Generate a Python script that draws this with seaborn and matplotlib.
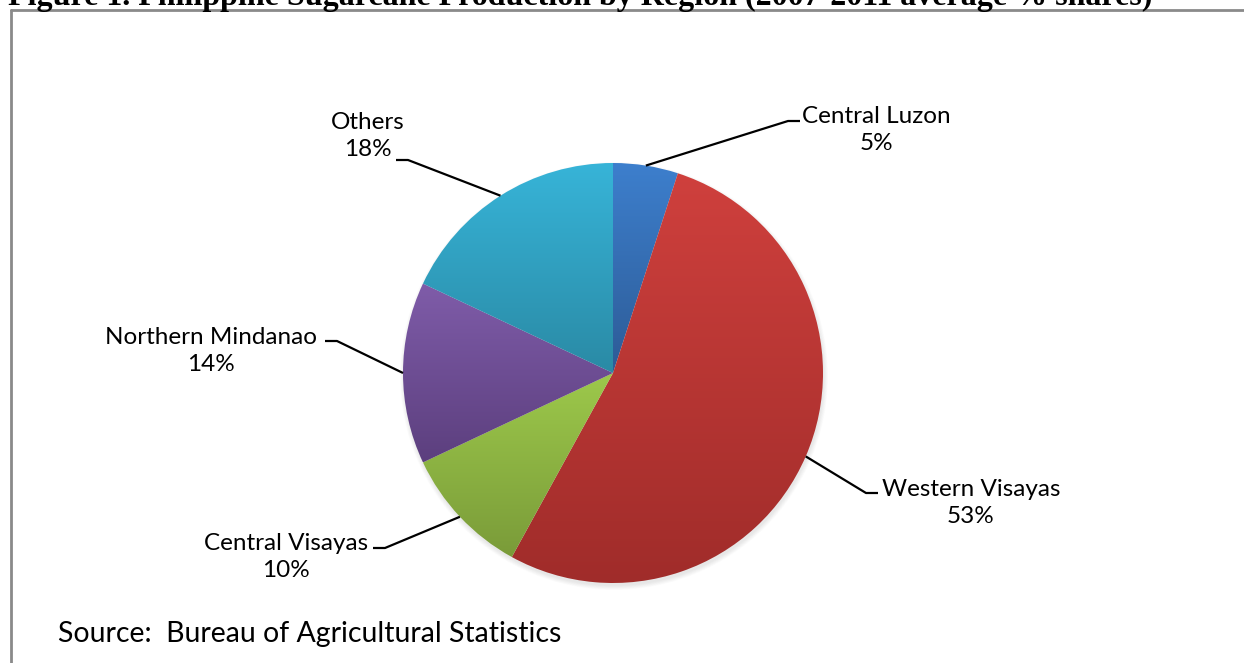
import numpy as np
import matplotlib
matplotlib.use("Agg")
import matplotlib.pyplot as plt
from matplotlib.colors import to_rgba
from matplotlib.lines import Line2D
import seaborn as sns

# Regional shares of sugarcane production, 2007-2011 average (%)
regions = ["Central Luzon", "Western Visayas", "Central Visayas",
           "Northern Mindanao", "Others"]
shares = [5, 53, 10, 14, 18]

# Light (top) and dark (bottom) shade of each slice
top_colors = ["#3D7FCD", "#CF403D", "#9DC94B", "#7F5CA9", "#37B4D8"]
bottom_colors = ["#2D5B96", "#A02C2A", "#7A9B39", "#5C3F7E", "#2A8AA5"]

title = ("Figure 1. Philippine Sugarcane Production by Region "
         "(2007-2011 average % shares)")
source = "Source:  Bureau of Agricultural Statistics"

sns.set_theme(style="white")
plt.rcParams["font.family"] = ["Lato", "DejaVu Sans"]

W, H = 1244, 663
fig = plt.figure(figsize=(W / 100, H / 100), dpi=100)
ax = fig.add_axes([0, 0, 1, 1])
ax.set_xlim(0, W)
ax.set_ylim(0, H)
ax.set_aspect("equal")
ax.axis("off")

cx, cy, r = 613, H - 373, 210

# soft shadow under the pie
for k in range(8):
    ax.add_patch(plt.Circle((cx + 1, cy - 3), r + 4 - k * 0.6,
                            color="black", alpha=0.012, lw=0, zorder=1))

wedges, _ = ax.pie(shares, colors=top_colors, startangle=90,
                   counterclock=False, center=(cx, cy), radius=r,
                   wedgeprops=dict(linewidth=0))

# vertical gradient fill clipped to each wedge
for w, c0, c1 in zip(wedges, top_colors, bottom_colors):
    t1, t2 = np.deg2rad(w.theta1), np.deg2rad(w.theta2)
    ang = np.linspace(t1, t2, 200)
    xs = np.concatenate([[cx], cx + r * np.cos(ang)])
    ys = np.concatenate([[cy], cy + r * np.sin(ang)])
    a, b = np.array(to_rgba(c0)), np.array(to_rgba(c1))
    f = np.linspace(0, 1, 256)[:, None]
    grad = (a[None, :] * (1 - f) + b[None, :] * f)[:, None, :]
    im = ax.imshow(grad, extent=[xs.min(), xs.max(), ys.min(), ys.max()],
                   origin="upper", aspect="auto", interpolation="bilinear",
                   zorder=w.get_zorder())
    im.set_clip_path(w)
    w.set_facecolor("none")

ax.set_xlim(0, W)
ax.set_ylim(0, H)

# text-side end of each leader line, label side, text centre
# (pixels from top-left)
elbows = [(800, 121), (878, 493), (373, 548), (325, 341), (396, 160)]
sides = [1, 1, -1, -1, -1]
text_centers = [(876, 130), (971, 503), (286, 557), (211, 351), (368, 136)]

cum = np.cumsum([0] + shares[:-1])
for i, (name, val) in enumerate(zip(regions, shares)):
    mid = 90 - (cum[i] + val / 2) / 100 * 360
    px = cx + r * np.cos(np.deg2rad(mid))
    py = cy + r * np.sin(np.deg2rad(mid))
    ex, ey = elbows[i]
    ey = H - ey
    ax.plot([px, ex - 12 * sides[i], ex], [py, ey, ey], color="black",
            lw=1.6, solid_capstyle="butt", zorder=5)
    tx, ty = text_centers[i]
    ax.text(tx, H - ty, f"{name}\n{val}%", ha="center", va="center",
            fontsize=17.5, linespacing=1.3, color="black", zorder=6)

ax.text(58, H - 634, source, ha="left", va="center", fontsize=20.5,
        color="black")

# frame around the chart area
frame_kw = dict(color="#8a8a8a", lw=2, transform=fig.transFigure)
fig.add_artist(Line2D([11 / W, 11 / W], [0, 1 - 10 / H], **frame_kw))
fig.add_artist(Line2D([11 / W, 1], [1 - 10 / H, 1 - 10 / H], **frame_kw))

fig.text(8 / W, 1 - 5 / H, title, ha="left", va="baseline",
         family="Liberation Serif", weight="bold", fontsize=23,
         color="black")

fig.savefig("out.png", dpi=100)
